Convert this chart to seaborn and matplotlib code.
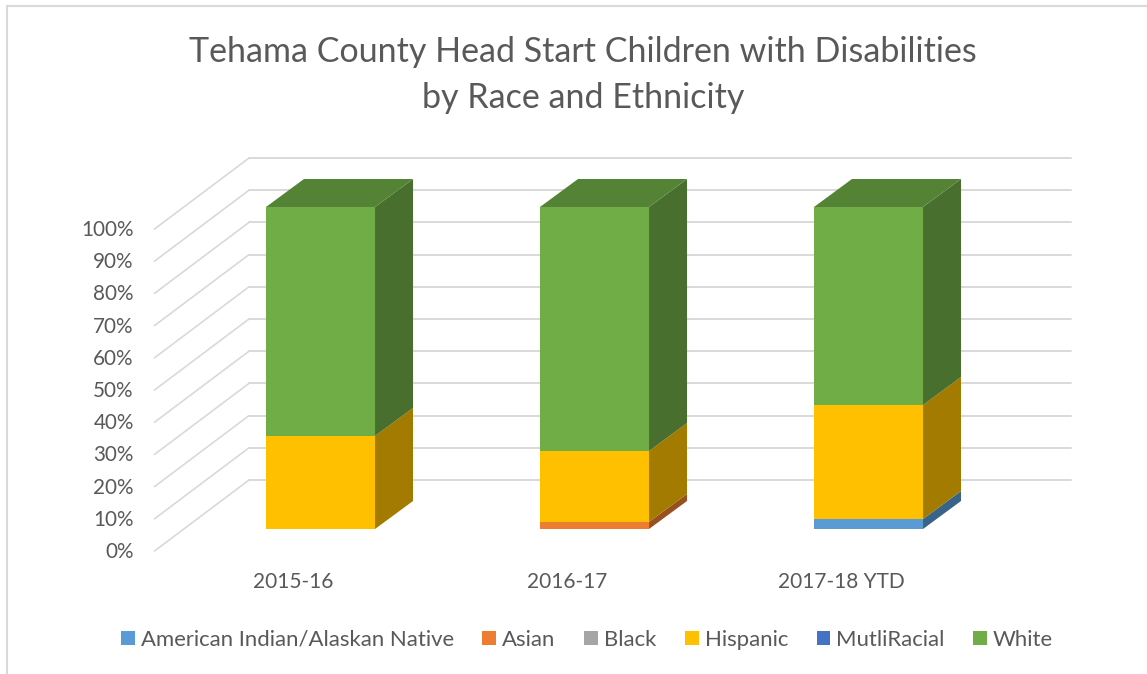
import matplotlib
matplotlib.use("Agg")
import matplotlib.pyplot as plt
from matplotlib.lines import Line2D
from matplotlib.patches import Patch, Polygon
from matplotlib.colors import to_rgb
import pandas as pd
import seaborn as sns

years = ["2015-16", "2016-17", "2017-18 YTD"]
american_indian = [0.0, 0.0, 3.1]
asian = [0.0, 2.2, 0.0]
black = [0.0, 0.0, 0.0]
hispanic = [28.9, 22.0, 35.4]
multiracial = [0.0, 0.0, 0.0]
white = [71.1, 75.8, 61.5]

series_names = ["American Indian/Alaskan Native", "Asian", "Black", "Hispanic", "MutliRacial", "White"]
series_values = [american_indian, asian, black, hispanic, multiracial, white]
series_colors = ["#5B9BD5", "#ED7D31", "#A5A5A5", "#FFC000", "#4472C4", "#70AD47"]

W, H = 1147, 674
sns.set_theme(style="white")
plt.rcParams["font.family"] = ["Lato", "DejaVu Sans"]
TEXT = "#595959"
GRID = "#D9D9D9"

fig = plt.figure(figsize=(W / 100, H / 100), dpi=100, facecolor="white")

# bar plane axes (pixel placement of the plot area)
BL, BR, BB, BT = 183.5, 1005.5, 529, 207
ax = fig.add_axes([BL / W, (H - BB) / H, (BR - BL) / W, (BB - BT) / H], facecolor="none")
# front plane: carries the tick labels
FDX, FDY = -29, -22
LDX, LDY = -27, -21
front = fig.add_axes([(BL + LDX) / W, (H - BB + LDY) / H, (BR - BL) / W, (BB - BT) / H], facecolor="none")

px_x = (BR - BL) / 3
px_y = (BB - BT) / 100
to_x = lambda p: p / px_x
to_y = lambda p: p / px_y

# stacked front faces
df = pd.DataFrame({"year": years})
bottom = [0.0, 0.0, 0.0]
for name, vals, col in zip(series_names, series_values, series_colors):
    sns.barplot(data=df.assign(v=vals), x="year", y="v", bottom=bottom, color=col,
                saturation=1, width=0.398, ax=ax, zorder=2, linewidth=0)
    bottom = [b + v for b, v in zip(bottom, vals)]

ax.set_xlim(-0.5, 2.5)
ax.set_ylim(0, 100)
ax.set_axis_off()

# walls
wx, wy = to_x(65.5), to_y(49)
fx, fy = to_x(FDX), to_y(FDY)
for t in range(0, 101, 10):
    ax.plot([-0.5 + wx, 2.5 + wx], [t + wy, t + wy], color=GRID, lw=1.4, zorder=0.5, clip_on=False)
    ax.plot([-0.5 + fx, -0.5 + wx], [t + fy, t + wy], color=GRID, lw=1.2, zorder=0.5, clip_on=False)

# 3-D side and top faces
dx, dy = to_x(38), to_y(28)
hw = 0.398 / 2
def shade(c, f):
    return tuple(v * f for v in to_rgb(c))
for i in range(len(years)):
    base = 0.0
    xr = i + hw
    for vals, col in zip(series_values, series_colors):
        v = vals[i]
        if v > 0:
            ax.add_patch(Polygon([(xr, base), (xr + dx, base + dy), (xr + dx, base + v + dy), (xr, base + v)],
                                 closed=True, fc=shade(col, 0.64), ec="none", zorder=3, clip_on=False))
            base += v
            top_col = col
    ax.add_patch(Polygon([(i - hw, base), (xr, base), (xr + dx, base + dy), (i - hw + dx, base + dy)],
                         closed=True, fc=shade(top_col, 0.76), ec="none", zorder=3, clip_on=False))

# tick labels
front.set_xlim(-0.5, 2.5)
front.set_ylim(0, 100)
front.set_xticks(range(3), years)
front.set_yticks(range(0, 101, 10), [f"{t}%" for t in range(0, 101, 10)])
front.tick_params(axis="x", length=0, labelsize=15, labelcolor=TEXT, pad=15.5)
front.tick_params(axis="y", length=0, labelsize=14.9, labelcolor=TEXT, pad=16.4)
for s in front.spines.values():
    s.set_visible(False)
front.grid(False)

# title
fig.text(583 / W, 1 - 52 / H, "Tehama County Head Start Children with Disabilities", ha="center", va="center",
         fontsize=24.45, color=TEXT)
fig.text(583 / W, 1 - 98 / H, "by Race and Ethnicity", ha="center", va="center", fontsize=24.45, color=TEXT)

# legend
handles = [Patch(fc=c, ec="none", label=n) for n, c in zip(series_names, series_colors)]
fig.legend(handles=handles, ncol=6, loc="center", bbox_to_anchor=(587 / W, 1 - 640 / H), frameon=False,
           fontsize=15.9, labelcolor=TEXT, handlelength=0.62, handleheight=0.62, handletextpad=0.27,
           columnspacing=1.3, borderpad=0, borderaxespad=0)

# chart frame
fig.add_artist(Line2D([7 / W, 7 / W], [0, 1 - 6 / H], color=GRID, lw=1.5))
fig.add_artist(Line2D([7 / W, 1], [1 - 6 / H, 1 - 6 / H], color=GRID, lw=1.5))

fig.savefig("out.png", dpi=100)
